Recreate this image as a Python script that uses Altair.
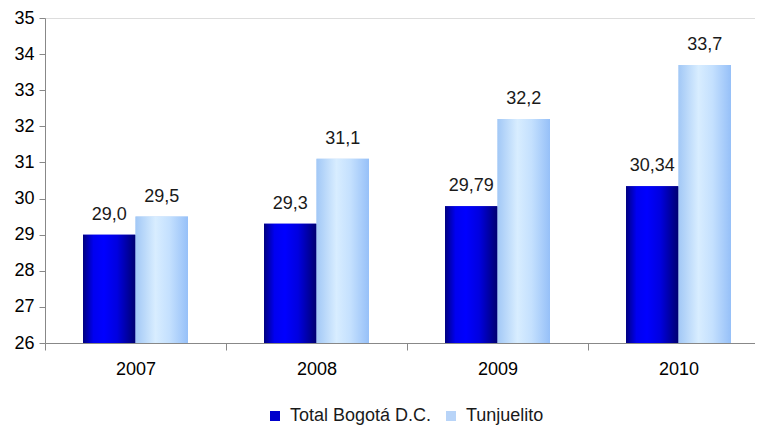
import altair as alt
import pandas as pd

years = ["2007", "2008", "2009", "2010"]
series_names = ["Total Bogotá D.C.", "Tunjuelito"]
bogota = [29.0, 29.3, 29.79, 30.34]
tunjuelito = [29.5, 31.1, 32.2, 33.7]
bogota_labels = ["29,0", "29,3", "29,79", "30,34"]
tunjuelito_labels = ["29,5", "31,1", "32,2", "33,7"]

rows = []
for i, y in enumerate(years):
    rows.append({"year": y, "series": series_names[0], "value": bogota[i], "label": bogota_labels[i]})
    rows.append({"year": y, "series": series_names[1], "value": tunjuelito[i], "label": tunjuelito_labels[i]})
df = pd.DataFrame(rows)

FONT = "Liberation Sans"
FS = 18

x_enc = alt.X("year:N", sort=years,
              scale=alt.Scale(range=[0, 724], paddingInner=0, paddingOuter=0),
              axis=alt.Axis(title=None, labelAngle=0, tickBand="extent", tickSize=7,
                            labelPadding=10, labelFontSize=FS, grid=False))
y_enc = alt.Y("value:Q",
              scale=alt.Scale(domain=[26, 35], zero=False, nice=False),
              axis=alt.Axis(title=None, values=list(range(26, 36)), tickSize=6,
                            labelPadding=5, labelFontSize=FS, grid=False))
xo_enc = alt.XOffset("series:N", sort=series_names,
                     scale=alt.Scale(paddingInner=0, paddingOuter=0.724))

base = alt.Chart(df)

solid = base.mark_bar().encode(
    x=x_enc, xOffset=xo_enc, y=y_enc, y2=alt.datum(26),
    color=alt.Color("series:N", sort=series_names,
                    scale=alt.Scale(domain=series_names, range=["#0000CC", "#B8D4F8"]),
                    legend=alt.Legend(title=None, orient="none", legendX=221, legendY=389,
                                      direction="horizontal", symbolType="square",
                                      symbolSize=100, symbolStrokeWidth=0,
                                      labelFontSize=FS, labelOffset=6, columnPadding=10,
                                      labelColor="#1a1a1a", labelFont=FONT))
)

dark_grad = alt.LinearGradient(
    gradient="linear", x1=0, x2=1, y1=0, y2=0,
    stops=[alt.GradientStop(color="#000080", offset=0),
           alt.GradientStop(color="#0000F0", offset=0.2),
           alt.GradientStop(color="#0000FF", offset=0.4),
           alt.GradientStop(color="#0000E0", offset=0.65),
           alt.GradientStop(color="#000070", offset=1)])
light_grad = alt.LinearGradient(
    gradient="linear", x1=0, x2=1, y1=0, y2=0,
    stops=[alt.GradientStop(color="#A2C8F6", offset=0),
           alt.GradientStop(color="#D8EDFF", offset=0.38),
           alt.GradientStop(color="#C4E0FE", offset=0.65),
           alt.GradientStop(color="#96C0F8", offset=1)])

dark = base.transform_filter(alt.datum.series == series_names[0]).mark_bar(color=dark_grad).encode(
    x=x_enc, xOffset=xo_enc, y=y_enc, y2=alt.datum(26))
light = base.transform_filter(alt.datum.series == series_names[1]).mark_bar(color=light_grad).encode(
    x=x_enc, xOffset=xo_enc, y=y_enc, y2=alt.datum(26))

text = base.mark_text(fontSize=FS, dy=-15, baseline="alphabetic", color="#1a1a1a", font=FONT).encode(
    x=x_enc, xOffset=xo_enc, y=y_enc, text="label:N")

chart = alt.layer(solid, dark, light, text).properties(
    width=710, height=325,
    autosize=alt.AutoSizeParams(type="none"),
    padding={"left": 37, "top": 10, "right": 0, "bottom": 82},
).configure_view(stroke=None).configure_axis(
    domainColor="#404040", tickColor="#404040", labelColor="#1a1a1a", labelFont=FONT
).configure(background="white")

chart.save("out.html", embed_options={"renderer": "svg", "actions": False})
